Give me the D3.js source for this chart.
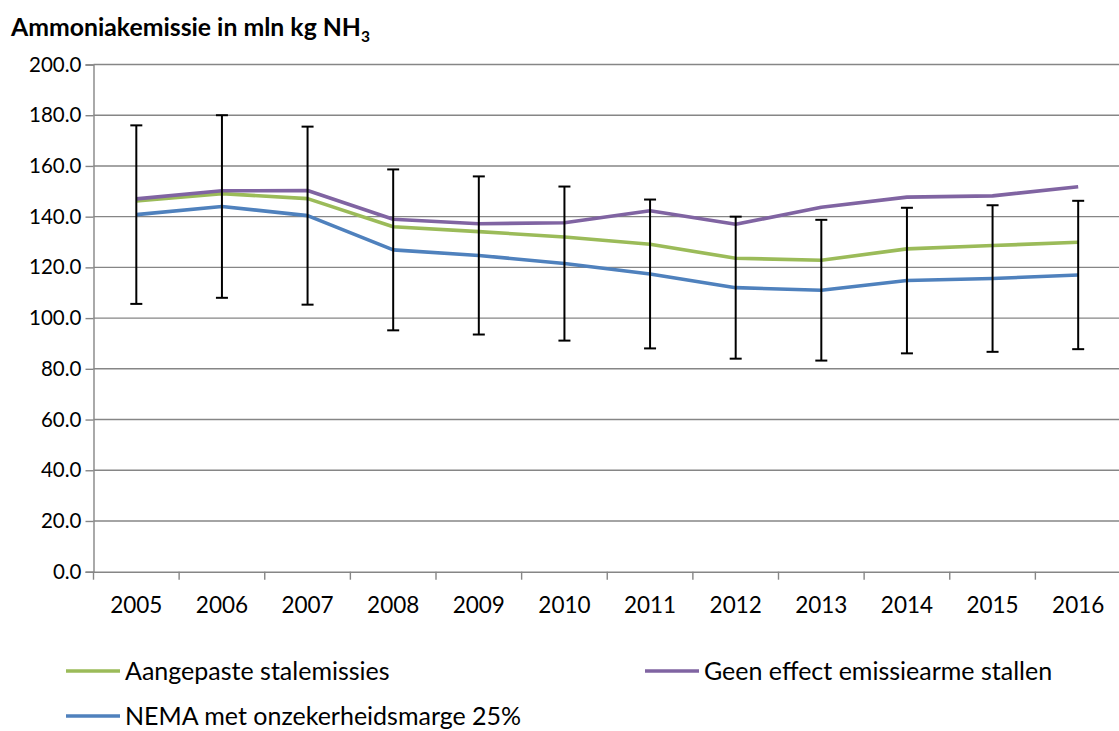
<!DOCTYPE html>
<html>
<head>
<meta charset="utf-8">
<script src="https://cdn.jsdelivr.net/npm/d3@7"></script>
<style>
  body { margin: 0; background: #fff; }
  svg { display: block; font-family: Lato, "Open Sans", sans-serif; }
</style>
</head>
<body>
<svg id="chart"></svg>
<script>
// data
const years = ["2005", "2006", "2007", "2008", "2009", "2010", "2011", "2012", "2013", "2014", "2015", "2016"];
const aangepast = [146.2, 149.1, 147.1, 136.0, 134.1, 132.0, 129.1, 123.6, 122.8, 127.3, 128.6, 129.9];
const geenEffect = [147.0, 150.2, 150.3, 139.0, 137.2, 137.6, 142.3, 137.0, 143.7, 147.7, 148.2, 151.8];
const nema = [140.8, 144.0, 140.4, 126.9, 124.7, 121.5, 117.4, 112.0, 111.0, 114.8, 115.6, 117.0];
const margin25 = 0.25;
const yTicks = [0, 20, 40, 60, 80, 100, 120, 140, 160, 180, 200];

const series = [
    {name: "Aangepaste stalemissies", values: aangepast, colour: "#9bbb59"},
    {name: "Geen effect emissiearme stallen", values: geenEffect, colour: "#8064a2"},
    {name: "NEMA met onzekerheidsmarge 25%", values: nema, colour: "#4f81bd"}
];

const width = 1119, height = 731;
const gridColour = "#868686";

const svg = d3.select("#chart")
    .attr("width", width)
    .attr("height", height);

const x = d3.scaleBand()
    .domain(years)
    .range([93.5, 1121])
    .padding(0);

const y = d3.scaleLinear()
    .domain([0, 200])
    .range([571.7, 64.5]);

// title
const title = svg.append("text")
    .attr("x", 11)
    .attr("y", 36)
    .attr("font-weight", "bold")
    .attr("font-size", 24.8)
    .attr("fill", "#000");
title.append("tspan").text("Ammoniakemissie in mln kg NH");
title.append("tspan").attr("font-size", 15.5).attr("dy", 6).text("3");

// gridlines
svg.append("g")
    .selectAll("line")
    .data(yTicks.slice(1))
    .join("line")
    .attr("x1", x.range()[0])
    .attr("x2", x.range()[1])
    .attr("y1", d => y(d))
    .attr("y2", d => y(d))
    .attr("stroke", gridColour)
    .attr("stroke-width", 1.4);

// y axis
const yAxis = svg.append("g")
    .attr("transform", `translate(${x.range()[0]},0)`)
    .call(d3.axisLeft(y).tickValues(yTicks).tickFormat(d3.format(".1f")).tickSize(8).tickPadding(4));
yAxis.select(".domain").attr("stroke", gridColour).attr("stroke-width", 1.4);
yAxis.selectAll(".tick line").attr("stroke", gridColour).attr("stroke-width", 1.4);
yAxis.selectAll(".tick text")
    .attr("font-size", 20.5)
    .attr("font-family", "Lato, sans-serif")
    .attr("fill", "#000");

// x axis
const xAxis = svg.append("g")
    .attr("transform", `translate(0,${y(0)})`)
    .call(d3.axisBottom(x).tickSize(0).tickPadding(25));
xAxis.select(".domain").attr("stroke", gridColour).attr("stroke-width", 1.4);
xAxis.selectAll(".tick text")
    .attr("font-size", 22.5)
    .attr("font-family", "Lato, sans-serif")
    .attr("fill", "#000");
// tick marks sit between the categories
xAxis.append("g")
    .selectAll("line")
    .data(years)
    .join("line")
    .attr("x1", d => x(d))
    .attr("x2", d => x(d))
    .attr("y1", 0)
    .attr("y2", 8)
    .attr("stroke", gridColour)
    .attr("stroke-width", 1.4);

const cx = d => x(d) + x.bandwidth() / 2;

// lines
const line = d3.line()
    .x((d, i) => cx(years[i]))
    .y(d => y(d));

svg.append("g")
    .selectAll("path")
    .data(series)
    .join("path")
    .attr("fill", "none")
    .attr("stroke", d => d.colour)
    .attr("stroke-width", 3.6)
    .attr("stroke-linejoin", "round")
    .attr("d", d => line(d.values));

// error bars on NEMA (+/- 25%)
const bars = svg.append("g")
    .attr("stroke", "#000")
    .attr("stroke-width", 2)
    .selectAll("g")
    .data(nema)
    .join("g");
bars.append("line")
    .attr("x1", (d, i) => cx(years[i]))
    .attr("x2", (d, i) => cx(years[i]))
    .attr("y1", d => y(d * (1 + margin25)))
    .attr("y2", d => y(d * (1 - margin25)));
bars.append("line")
    .attr("x1", (d, i) => cx(years[i]) - 6)
    .attr("x2", (d, i) => cx(years[i]) + 6)
    .attr("y1", d => y(d * (1 + margin25)))
    .attr("y2", d => y(d * (1 + margin25)));
bars.append("line")
    .attr("x1", (d, i) => cx(years[i]) - 6)
    .attr("x2", (d, i) => cx(years[i]) + 6)
    .attr("y1", d => y(d * (1 - margin25)))
    .attr("y2", d => y(d * (1 - margin25)));

// legend
const legendPos = [[66, 671], [645, 671], [66, 716]];
const legend = svg.append("g")
    .selectAll("g")
    .data(series)
    .join("g")
    .attr("transform", (d, i) => `translate(${legendPos[i][0]},${legendPos[i][1]})`);
legend.append("line")
    .attr("x1", 0)
    .attr("x2", 54)
    .attr("stroke", d => d.colour)
    .attr("stroke-width", 3.6);
legend.append("text")
    .attr("x", 59)
    .attr("dy", "0.35em")
    .attr("font-size", 25)
    .attr("fill", "#000")
    .text(d => d.name);
</script>
</body>
</html>
